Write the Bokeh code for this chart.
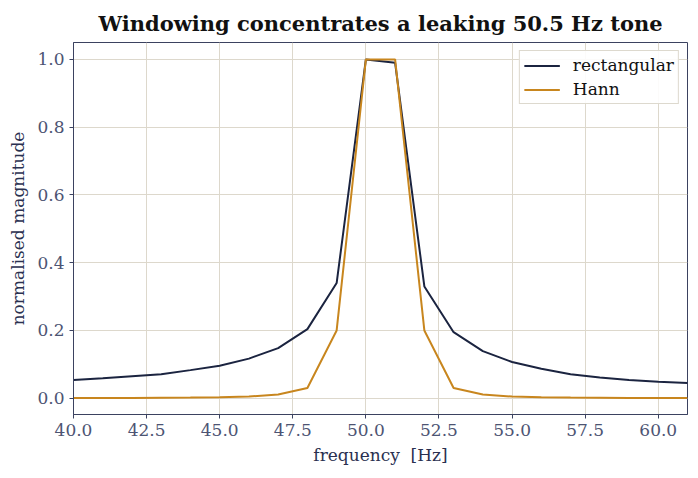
import numpy as np
from bokeh.plotting import figure
from bokeh.models import FixedTicker, NumeralTickFormatter, Legend, LegendItem
from bokeh.embed import file_html
from bokeh.resources import INLINE

# frequency bins and normalised magnitudes
freq = list(range(40, 62))
rect = [0.054, 0.059, 0.065, 0.071, 0.083, 0.096, 0.117, 0.148, 0.204, 0.340,
        1.000, 0.990, 0.330, 0.195, 0.139, 0.107, 0.087, 0.071, 0.061, 0.054,
        0.049, 0.045]
hann = [0.001, 0.001, 0.001, 0.0015, 0.002, 0.003, 0.005, 0.011, 0.030, 0.200,
        1.000, 1.000, 0.200, 0.030, 0.011, 0.005, 0.003, 0.002, 0.0015, 0.001,
        0.001, 0.001]
x_ticks = [40, 42.5, 45, 47.5, 50, 52.5, 55, 57.5, 60]
y_ticks = [0.0, 0.2, 0.4, 0.6, 0.8, 1.0]

FONT = "DejaVu Serif"
AXIS_COL = "#3b4260"
TICK_COL = "#4d5473"

p = figure(frame_width=614, frame_height=372,
           x_range=(40, 61), y_range=(-0.048, 1.05),
           title="Windowing concentrates a leaking 50.5 Hz tone",
           x_axis_label="frequency\u00a0 [Hz]", y_axis_label="normalised magnitude",
           output_backend="svg", toolbar_location=None,
           min_border_left=73, min_border_top=42, min_border_right=11,
           min_border_bottom=64)

p.title.text_font = FONT
p.title.text_font_size = "21px"
p.title.text_font_style = "bold"
p.title.text_color = "#111111"
p.title.align = "center"
p.title.standoff = 13

p.outline_line_color = AXIS_COL
p.outline_line_width = 1

for ax in (p.xaxis[0], p.yaxis[0]):
    ax.axis_line_color = AXIS_COL
    ax.major_tick_line_color = AXIS_COL
    ax.minor_tick_line_color = None
    ax.major_tick_out = 4
    ax.major_tick_in = 0
    ax.major_label_text_font = FONT
    ax.major_label_text_font_size = "17px"
    ax.major_label_text_color = TICK_COL
    ax.axis_label_text_font = FONT
    ax.axis_label_text_font_size = "17px"
    ax.axis_label_text_font_style = "normal"
    ax.axis_label_text_color = "#2a3050"
    ax.axis_label_standoff = 6

p.xaxis.ticker = FixedTicker(ticks=x_ticks)
p.yaxis.ticker = FixedTicker(ticks=y_ticks)
p.xaxis.formatter = NumeralTickFormatter(format="0.0")
p.yaxis.formatter = NumeralTickFormatter(format="0.0")

p.grid.grid_line_color = "#ddd8cc"
p.grid.grid_line_width = 1

r1 = p.line(freq, rect, color="#1b2440", line_width=2)
r2 = p.line(freq, hann, color="#c8861e", line_width=2)

legend = Legend(items=[LegendItem(label="rectangular", renderers=[r1]),
                       LegendItem(label="Hann", renderers=[r2])],
                location="top_right")
legend.label_text_font = FONT
legend.label_text_font_size = "17px"
legend.label_text_color = "#111111"
legend.border_line_color = "#ddd9ce"
legend.border_line_alpha = 1
legend.background_fill_alpha = 0.9
legend.glyph_width = 36
legend.glyph_height = 19
legend.label_height = 19
legend.label_standoff = 13
legend.padding = 4
legend.spacing = 4
legend.margin = 8
p.add_layout(legend)

open("out.html", "w").write(file_html(p, INLINE))
